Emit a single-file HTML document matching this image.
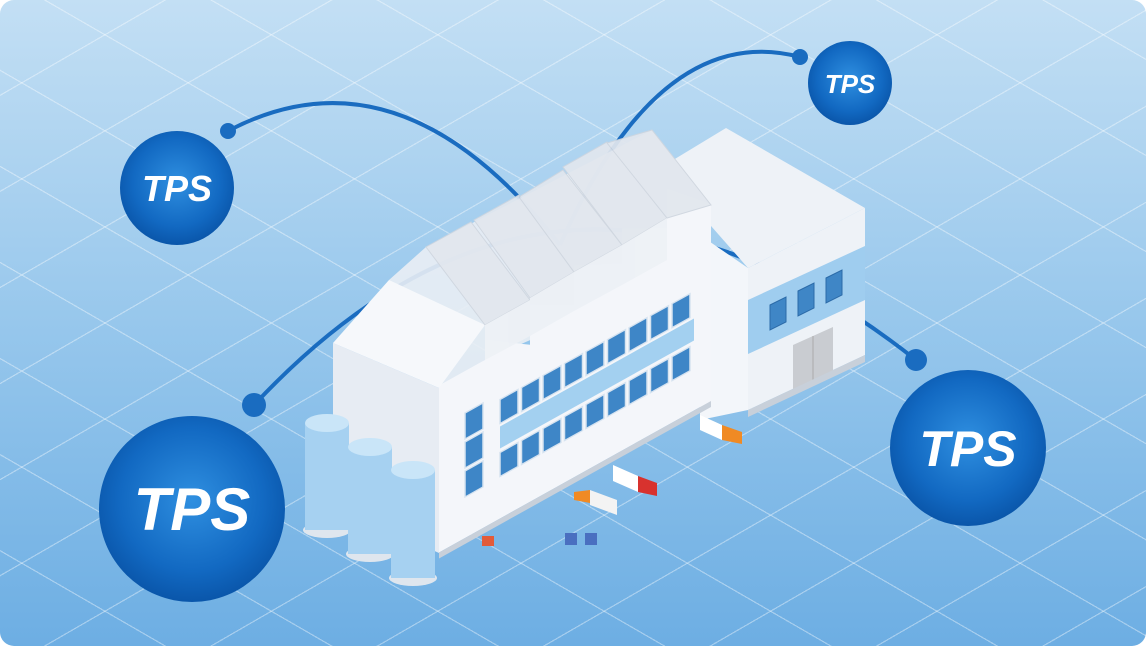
<!DOCTYPE html>
<html><head><meta charset="utf-8"><style>
html,body{margin:0;padding:0;background:#fff;}
#c{position:relative;width:1146px;height:646px;border-radius:14px;overflow:hidden;
background:
repeating-linear-gradient(30deg,rgba(255,255,255,0) 0 82px,rgba(255,255,255,.38) 82px 83.2px),
repeating-linear-gradient(150deg,rgba(255,255,255,0) 0 82px,rgba(255,255,255,.38) 82px 83.2px),
linear-gradient(180deg,#c3dff4 0%,#97c7ec 50%,#6daee3 100%);}
svg{position:absolute;left:0;top:0}
text{font-family:"Liberation Sans",sans-serif;font-weight:bold;font-style:italic;fill:#fff}
</style></head><body><div id="c">
<svg width="1146" height="646" viewBox="0 0 1146 646">
<defs>
<radialGradient id="g" cx="50%" cy="45%" r="55%">
<stop offset="0" stop-color="#2f8fe0"/><stop offset="0.7" stop-color="#1269c2"/><stop offset="1" stop-color="#0a56aa"/>
</radialGradient>
</defs>
<!-- arcs -->
<g fill="none" stroke="#1a6cc0" stroke-width="4">
<path d="M228,131 Q400,40 560,245"/>
<path d="M800,57 Q660,20 560,245"/>
<path d="M254,405 Q560,78 916,360"/>
</g>
<g fill="#1a6cc0"><circle cx="228" cy="131" r="8"/><circle cx="800" cy="57" r="8"/><circle cx="254" cy="405" r="12"/><circle cx="916" cy="360" r="11"/></g>

<!-- annex -->
<polygon points="660,168 726,128 865,208 748,268" fill="#eef2f7"/>
<polygon points="700,235 748,268 748,410 700,420" fill="#f3f6fa"/>
<polygon points="748,268 865,208 865,355 748,410" fill="#eef2f7"/>
<polygon points="748,300 865,246 865,300 748,354" fill="#9fcdef"/>
<g fill="#3f86c6" stroke="#2b6aa8" stroke-width="1">
<polygon points="770,305 786,297 786,322 770,330"/>
<polygon points="798,291 814,283 814,308 798,316"/>
<polygon points="826,278 842,270 842,295 826,303"/>
</g>
<polygon points="793,345 833,327 833,372 793,390" fill="#c9ccd1"/>
<line x1="813" y1="336" x2="813" y2="381" stroke="#aaa"/>
<polygon points="748,410 865,355 865,362 748,417" fill="#c8d0da"/>

<!-- roof base mass -->
<polygon points="389,280 426,247 652,130 711,205 711,260 485,360 439,388" fill="#eaeef4" opacity="0.9"/>
<!-- main building gable wall -->
<polygon points="333,343 439,388 439,553 333,505" fill="#e7ecf3"/>
<!-- front wall -->
<g transform="matrix(1,-0.557,0,1,0,0)">
<polygon points="439,630 485,630 485,610 530,640 530,600 574,625 574,585 622,610 622,575 667,600 667,560 711,600 711,797 439,797" fill="#f4f6fa"/>
<rect x="500" y="705" width="194" height="22" fill="#a3d0f0"/>
<g fill="#3e86c7" stroke="#d6e3f0" stroke-width="1.5">
<rect x="500" y="678" width="18" height="24"/><rect x="521.5" y="678" width="18" height="24"/><rect x="543" y="678" width="18" height="24"/><rect x="564.5" y="678" width="18" height="24"/><rect x="586" y="678" width="18" height="24"/><rect x="607.5" y="678" width="18" height="24"/><rect x="629" y="678" width="18" height="24"/><rect x="650.5" y="678" width="18" height="24"/><rect x="672" y="678" width="18" height="24"/>
<rect x="500" y="731" width="18" height="24"/><rect x="521.5" y="731" width="18" height="24"/><rect x="543" y="731" width="18" height="24"/><rect x="564.5" y="731" width="18" height="24"/><rect x="586" y="731" width="18" height="24"/><rect x="607.5" y="731" width="18" height="24"/><rect x="629" y="731" width="18" height="24"/><rect x="650.5" y="731" width="18" height="24"/><rect x="672" y="731" width="18" height="24"/>
<rect x="465" y="672" width="18" height="26"/><rect x="465" y="701" width="18" height="26"/><rect x="465" y="730" width="18" height="26"/>
</g>
<rect x="439" y="797" width="272" height="6" fill="#c8d0da"/>
</g>
<!-- roofs -->
<polygon points="333,343 389,280 485,325 439,388" fill="#f6f8fb"/>
<g fill="#e2e7ee" opacity="0.92" stroke="#cfd6df" stroke-width="1">
<polygon points="426,247 485,325 530,300 471,222"/>
<polygon points="474,220 530,298 574,272 519,195"/>
<polygon points="519,197 574,272 622,245 563,170"/>
<polygon points="563,167 622,245 667,218 607,142"/>
<polygon points="607,143 667,218 711,205 652,130"/>
</g>
<g fill="#edf1f6" opacity="0.95">
<polygon points="485,325 530,300 530,336 485,360"/>
<polygon points="530,298 574,272 574,311 530,336"/>
<polygon points="574,272 622,245 622,285 574,311"/>
<polygon points="622,245 667,218 667,260 622,285"/>
</g>

<!-- tanks -->
<g>
<ellipse cx="327" cy="530" rx="24" ry="8" fill="#dfe6ee"/><rect x="305" y="423" width="44" height="107" fill="#a6d1f1"/><ellipse cx="327" cy="423" rx="22" ry="9" fill="#c9e5f8"/>
<ellipse cx="370" cy="554" rx="24" ry="8" fill="#dfe6ee"/><rect x="348" y="447" width="44" height="107" fill="#a6d1f1"/><ellipse cx="370" cy="447" rx="22" ry="9" fill="#c9e5f8"/>
<ellipse cx="413" cy="578" rx="24" ry="8" fill="#dfe6ee"/><rect x="391" y="470" width="44" height="108" fill="#a6d1f1"/><ellipse cx="413" cy="470" rx="22" ry="9" fill="#c9e5f8"/>
</g>

<!-- vehicles -->
<polygon points="700,415 722,425 722,440 700,430" fill="#fff"/><polygon points="722,425 742,432 742,444 722,440" fill="#f08a24"/>
<polygon points="613,465 638,476 638,492 613,481" fill="#fff"/><polygon points="638,476 657,483 657,496 638,492" fill="#d8322e"/>
<polygon points="590,490 617,500 617,515 590,505" fill="#f3f3f3"/><polygon points="574,492 590,490 590,503 574,500" fill="#f08a24"/>
<rect x="482" y="536" width="12" height="10" fill="#e25b3a"/><rect x="565" y="533" width="12" height="12" fill="#4a6fc0"/><rect x="585" y="533" width="12" height="12" fill="#4a6fc0"/>

<!-- TPS circles -->
<circle cx="177" cy="188" r="57" fill="url(#g)"/><text x="177" y="201" font-size="36" text-anchor="middle">TPS</text>
<circle cx="850" cy="83" r="42" fill="url(#g)"/><text x="850" y="93" font-size="26" text-anchor="middle">TPS</text>
<circle cx="192" cy="509" r="93" fill="url(#g)"/><text x="192" y="530" font-size="60" text-anchor="middle">TPS</text>
<circle cx="968" cy="448" r="78" fill="url(#g)"/><text x="968" y="466" font-size="50" text-anchor="middle">TPS</text>
</svg></div></body></html>
